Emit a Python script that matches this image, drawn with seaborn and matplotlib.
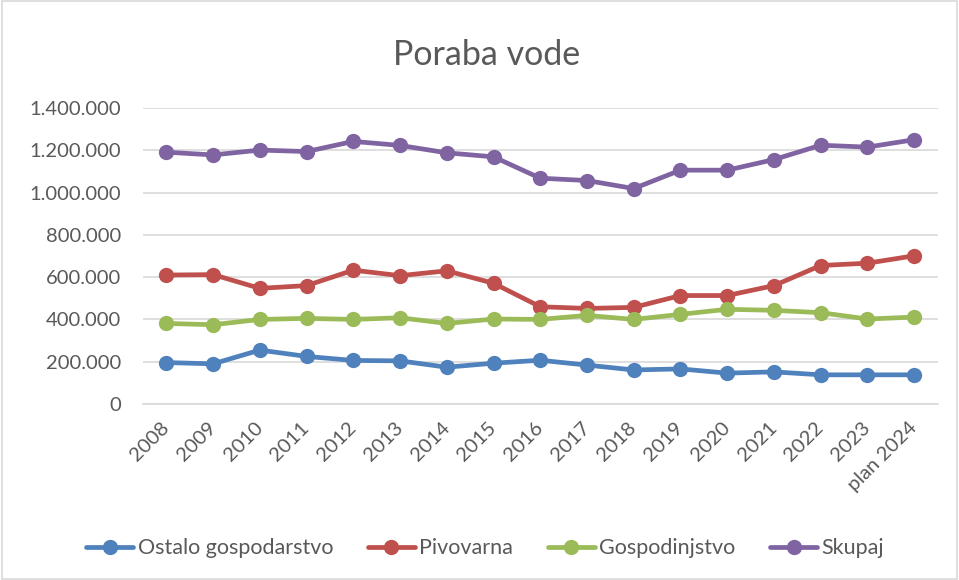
import matplotlib
matplotlib.use("Agg")
import matplotlib.pyplot as plt
import matplotlib.ticker as mticker
from matplotlib.patches import Rectangle
import seaborn as sns
import pandas as pd

categories = ["2008", "2009", "2010", "2011", "2012", "2013", "2014", "2015", "2016",
              "2017", "2018", "2019", "2020", "2021", "2022", "2023", "plan 2024"]
ostalo = [196000, 190000, 255000, 225000, 206000, 204000, 174000, 193000, 207000,
          184000, 161000, 166000, 146000, 152000, 138000, 138000, 138000]
pivovarna = [610000, 612000, 547000, 560000, 633000, 607000, 630000, 571000, 460000,
             452000, 457000, 513000, 513000, 560000, 655000, 666000, 701000]
gospodinjstvo = [381000, 375000, 400000, 405000, 400000, 408000, 381000, 402000, 400000,
                 419000, 400000, 424000, 448000, 443000, 432000, 402000, 411000]
skupaj = [1191000, 1178000, 1201000, 1194000, 1242000, 1223000, 1188000, 1169000, 1068000,
          1057000, 1019000, 1106000, 1106000, 1156000, 1224000, 1215000, 1250000]
series_names = ["Ostalo gospodarstvo", "Pivovarna", "Gospodinjstvo", "Skupaj"]
colors = ["#4F81BD", "#C0504D", "#9BBB59", "#8064A2"]
title = "Poraba vode"

sns.set_theme(style="white")
plt.rcParams["font.family"] = ["Lato", "DejaVu Sans"]

rows = []
for name, vals in zip(series_names, [ostalo, pivovarna, gospodinjstvo, skupaj]):
    for i, v in enumerate(vals):
        rows.append({"pos": i, "value": v, "serija": name})
df = pd.DataFrame(rows)

fig = plt.figure(figsize=(9.59, 5.8), dpi=100)
ax = fig.add_axes([143/959, 1 - 404/580, (937.5 - 143)/959, (404 - 108)/580])

sns.lineplot(data=df, x="pos", y="value", hue="serija", hue_order=series_names,
             palette=colors, marker="o", markersize=11, markeredgewidth=0,
             linewidth=3.4, ax=ax, legend=True, sort=False)

ax.set_xlim(-0.5, len(categories) - 0.5)
ax.set_ylim(0, 1400000)
ax.set_yticks(range(0, 1400001, 200000))
ax.yaxis.set_major_formatter(mticker.FuncFormatter(
    lambda v, p: f"{int(v):,}".replace(",", ".")))
ax.set_xticks(range(len(categories)))
ax.set_xticklabels(categories, rotation=45, ha="right", va="center",
                   rotation_mode="anchor")
ax.tick_params(axis="both", length=0, labelsize=14.5, labelcolor="#595959")
ax.tick_params(axis="y", pad=16)
ax.tick_params(axis="x", pad=15)
ax.set_xlabel("")
ax.set_ylabel("")
ax.grid(axis="y", color="#D9D9D9", linewidth=1.2)
ax.set_axisbelow(True)
for s in ["left", "right", "top"]:
    ax.spines[s].set_visible(False)
ax.spines["bottom"].set_color("#D9D9D9")
ax.spines["bottom"].set_linewidth(1.2)

handles, labels = ax.get_legend_handles_labels()
ax.get_legend().remove()
fig.legend(handles, labels, loc="center", bbox_to_anchor=(0.506, 0.055), ncol=4,
           frameon=False, fontsize=15.5, labelcolor="#595959", handlelength=2.2,
           handletextpad=0.2, columnspacing=1.6)

fig.text(0.507, 0.905, title, ha="center", va="center", fontsize=24.5, color="#595959")

fig.patches.append(Rectangle((0.002, 0.002), 0.996, 0.996, transform=fig.transFigure,
                             fill=False, edgecolor="#D9D9D9", linewidth=1.2))

fig.savefig("out.png", dpi=100)
